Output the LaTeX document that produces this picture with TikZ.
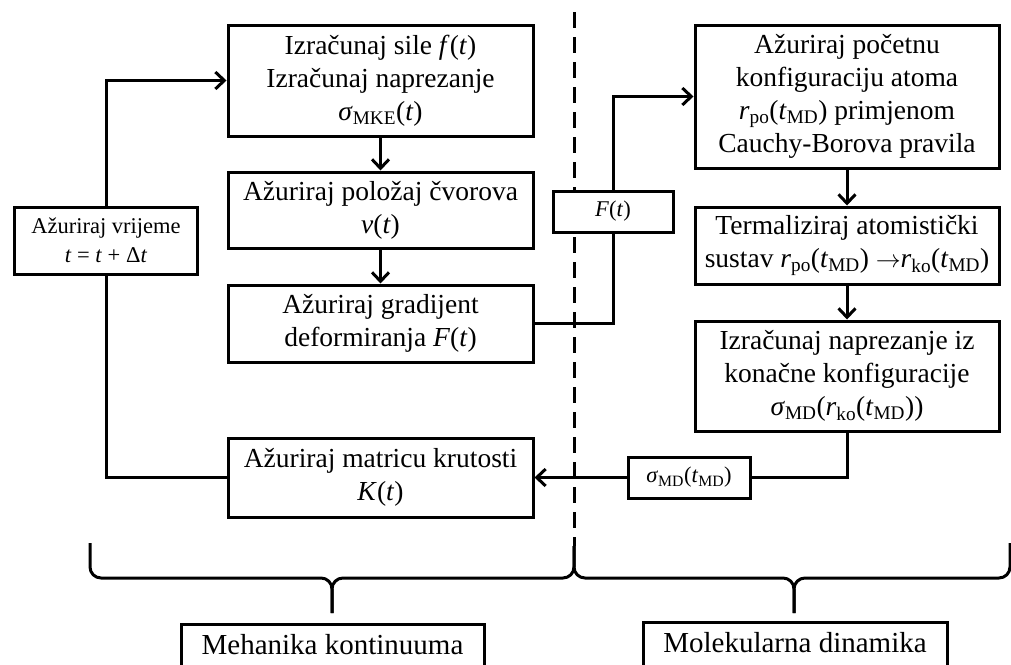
\documentclass[tikz,border=0pt]{standalone}
\usepackage{fontspec}
\setmainfont{Liberation Serif}
\usetikzlibrary{arrows.meta,backgrounds}
\newcommand\itx[1]{\textit{#1}}
\newcommand\sbs[1]{\textsubscript{#1}}
\begin{document}
\begin{tikzpicture}[x=1pt,y=-1pt,
  box/.style={draw, line width=3pt, inner sep=0pt, align=center, fill=white, font=\fontsize{27.5}{33}\selectfont},
  smallbox/.style={box, font=\fontsize{22.5}{29}\selectfont},
  labbox/.style={draw, line width=3pt, inner xsep=0pt, inner ysep=4pt, text height=26pt, text depth=24pt, anchor=north, font=\fontsize{29}{32}\selectfont},
  conn/.style={line width=3pt},
  arr/.style={conn, -{Straight Barb[length=9pt,width=17pt]}},
  brace/.style={line width=3pt, rounded corners=11pt},
  divider/.style={line width=3pt, dash pattern=on 16pt off 9pt}
]
\useasboundingbox (0,0) rectangle (1011,664);

% left column
\node[box, minimum width=305pt, minimum height=111pt] (A) at (380.5,80.5)
  {Izračunaj sile \itx{f}(\itx{t})\\ Izračunaj naprezanje\\ \itx{σ}\sbs{MKE}(\itx{t})};
\node[box, minimum width=305pt, minimum height=76pt] (B) at (380.5,210)
  {Ažuriraj položaj čvorova\\ \itx{v}(\itx{t})};
\node[box, minimum width=305pt, minimum height=77pt] (C) at (380.5,323.5)
  {Ažuriraj gradijent\\ deformiranja \itx{F}(\itx{t})};
\node[box, minimum width=305pt, minimum height=79pt] (K) at (380.5,477.5)
  {Ažuriraj matricu krutosti\\ \itx{K}(\itx{t})};
\node[smallbox, minimum width=183pt, minimum height=67pt] (T) at (106,240.5)
  {Ažuriraj vrijeme\\ \itx{t} = \itx{t} + Δ\itx{t}};

% right column
\node[box, minimum width=304pt, minimum height=143pt] (R1) at (847,96.5)
  {Ažuriraj početnu\\ konfiguraciju atoma\\ \itx{r}\sbs{po}(\itx{t}\sbs{MD}) primjenom\\ Cauchy-Borova pravila};
\node[box, minimum width=304pt, minimum height=77pt] (R2) at (847,245.5)
  {Termaliziraj atomistički\\ sustav \itx{r}\sbs{po}(\itx{t}\sbs{MD}) $\rightarrow$\itx{r}\sbs{ko}(\itx{t}\sbs{MD})};
\node[box, minimum width=304pt, minimum height=110pt] (R3) at (847,376)
  {Izračunaj naprezanje iz\\ konačne konfiguracije\\ \itx{σ}\sbs{MD}(\itx{r}\sbs{ko}(\itx{t}\sbs{MD}))};

% transfer labels
\node[smallbox, minimum width=120pt, minimum height=41pt] (F) at (613,211.5) {\itx{F}(\itx{t})};
\node[smallbox, minimum width=122pt, minimum height=41pt] (S) at (689,477.5) {\itx{σ}\sbs{MD}(\itx{t}\sbs{MD})};

% bottom labels
\node[labbox, minimum width=303pt] (MK) at (332.5,623) {Mehanika kontinuuma};
\node[labbox, minimum width=304pt] (MD) at (795,621) {Molekularna dinamika};

\coordinate (dtop) at (574,12);
\coordinate (dbot) at (574,546);

\begin{scope}[on background layer]
  \draw[divider] (dtop) -- (dbot);
  \draw[arr] (C.east) -| (F.center) |- (R1.west);
  \draw[arr] (R3.south) |- (K.east);
\end{scope}

\draw[arr] (T.north) |- (A.west);
\draw[conn] (T.south) |- (K.west);
\draw[arr] (A) -- (B);
\draw[arr] (B) -- (C);
\draw[arr] (R1) -- (R2);
\draw[arr] (R2) -- (R3);

% braces
\draw[brace] (90,543) -- (90,578) -- (332,578) -- (332,613);
\draw[brace] (574,546) -- (574,578) -- (332,578) -- (332,613);
\draw[brace] (574,546) -- (574,578) -- (794,578) -- (794,613);
\draw[brace] (1010,543) -- (1010,578) -- (794,578) -- (794,613);
\end{tikzpicture}
\end{document}
